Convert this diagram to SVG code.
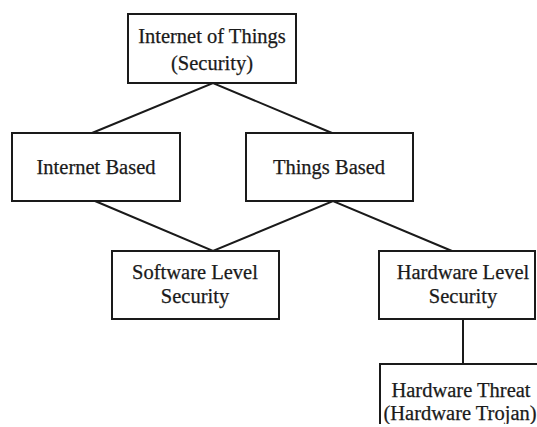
<svg xmlns="http://www.w3.org/2000/svg" width="537" height="427" viewBox="0 0 537 427">
  <style>
    .box { fill: #ffffff; stroke: #1a1a1a; stroke-width: 2; }
    .link { stroke: #1a1a1a; stroke-width: 2; fill: none; }
    .label { font-family: "Liberation Serif", "Times New Roman", serif; font-size: 20.5px; fill: #1a1a1a; stroke: #1a1a1a; stroke-width: 0.25; text-anchor: middle; }
  </style>
  <rect width="537" height="427" fill="#ffffff"/>

  <g id="connectors">
    <polyline class="link" points="92,133 213,83 332,133"/>
    <polyline class="link" points="95,201 213,251 333,201 452,251"/>
    <line class="link" x1="463" y1="319" x2="463" y2="364"/>
  </g>

  <g id="iot-security">
    <rect class="box" x="128" y="14" width="168" height="69"/>
    <text class="label" x="212" y="43">Internet of Things</text>
    <text class="label" x="212" y="70">(Security)</text>
  </g>

  <g id="internet-based">
    <rect class="box" x="12" y="133" width="168" height="68"/>
    <text class="label" x="96" y="174">Internet Based</text>
  </g>

  <g id="things-based">
    <rect class="box" x="246" y="133" width="167" height="68"/>
    <text class="label" x="329" y="174">Things Based</text>
  </g>

  <g id="software-level">
    <rect class="box" x="112" y="251" width="167" height="68"/>
    <text class="label" x="195" y="279">Software Level</text>
    <text class="label" x="195" y="303">Security</text>
  </g>

  <g id="hardware-level">
    <rect class="box" x="379" y="251" width="156" height="68"/>
    <text class="label" x="463" y="279">Hardware Level</text>
    <text class="label" x="463" y="303">Security</text>
  </g>

  <g id="hardware-threat">
    <rect class="box" x="380" y="364" width="180" height="80"/>
    <text class="label" x="461" y="397">Hardware Threat</text>
    <text class="label" x="460" y="420">(Hardware Trojan)</text>
  </g>

  <!-- blank strip along the lower edge -->
  <rect x="0" y="424" width="537" height="3" fill="#ffffff"/>
</svg>
